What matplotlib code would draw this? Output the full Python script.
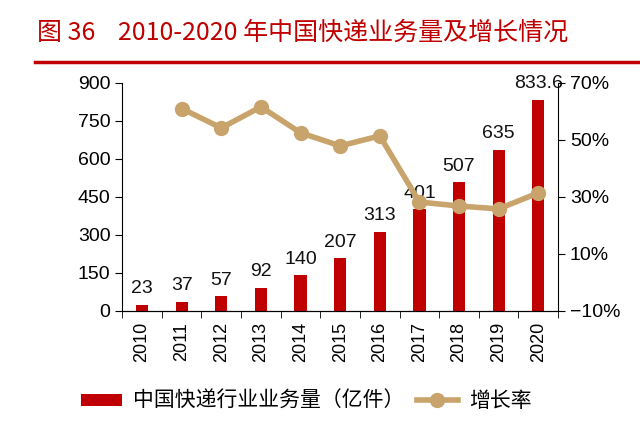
import matplotlib
matplotlib.use("Agg")
import matplotlib.pyplot as plt
import numpy as np

plt.rcParams['font.family'] = ['Liberation Sans', 'Noto Sans CJK SC', 'DejaVu Sans']

years = ['2010', '2011', '2012', '2013', '2014', '2015', '2016', '2017', '2018', '2019', '2020']
volume = [23, 37, 57, 92, 140, 207, 313, 401, 507, 635, 833.6]
volume_labels = ['23', '37', '57', '92', '140', '207', '313', '401', '507', '635', '833.6']
growth = [None, 61.0, 54.2, 61.6, 52.5, 47.9, 51.4, 28.2, 26.8, 25.8, 31.4]

red = '#C00000'
tan = '#C8A46C'

fig = plt.figure(figsize=(6.4, 4.23), dpi=100)
ax = fig.add_axes([0.191, 0.265, 0.681, 0.539])
x = np.arange(len(years))

ax.bar(x, volume, width=0.31, color=red, zorder=2, label='中国快递行业业务量（亿件）')
for xi, v, s in zip(x, volume, volume_labels):
    ax.text(xi, v + 30, s, ha='center', va='bottom', fontsize=14, color='#111111')

ax.set_ylim(0, 900)
ax.set_yticks([0, 150, 300, 450, 600, 750, 900])
ax.set_xlim(-0.5, len(years) - 0.5)
ax.set_xticks(x)
ax.set_xticklabels(years, rotation=90, fontsize=13)
ax.set_xticks(np.arange(-0.5, len(years), 1), minor=True)
ax.tick_params(axis='x', which='major', length=0, pad=8)
ax.tick_params(axis='x', which='minor', length=5, direction='out')
ax.tick_params(axis='y', labelsize=14, length=5, direction='out')
for side in ['top', 'right']:
    ax.spines[side].set_visible(False)

ax2 = ax.twinx()
gx = [xi for xi, g in zip(x, growth) if g is not None]
gy = [g for g in growth if g is not None]
ax2.plot(gx, gy, color=tan, lw=4, marker='o', ms=10, zorder=3, label='增长率')
ax2.set_ylim(-10, 70)
ax2.set_yticks([-10, 10, 30, 50, 70])
ax2.set_yticklabels(['−10%', '10%', '30%', '50%', '70%'])
ax2.tick_params(axis='y', labelsize=14, length=5, direction='out')
for side in ['top', 'left']:
    ax2.spines[side].set_visible(False)

h1, l1 = ax.get_legend_handles_labels()
h2, l2 = ax2.get_legend_handles_labels()
fig.legend(h1 + h2, l1 + l2, loc='center', bbox_to_anchor=(0.478, 0.052), ncol=2,
           frameon=False, handlelength=2.0, handleheight=0.5, handletextpad=0.5,
           columnspacing=0.6,
           prop={'family': ['Noto Sans CJK SC'], 'size': 15})

fig.text(0.058, 0.922, '图 36    2010-2020 年中国快递业务量及增长情况', color=red,
         fontsize=18, family=['Noto Sans CJK SC'], va='center')
fig.add_artist(plt.Line2D([0.055, 1.0], [0.853, 0.853], color=red, lw=2.5))

fig.savefig('out.png', dpi=100)
